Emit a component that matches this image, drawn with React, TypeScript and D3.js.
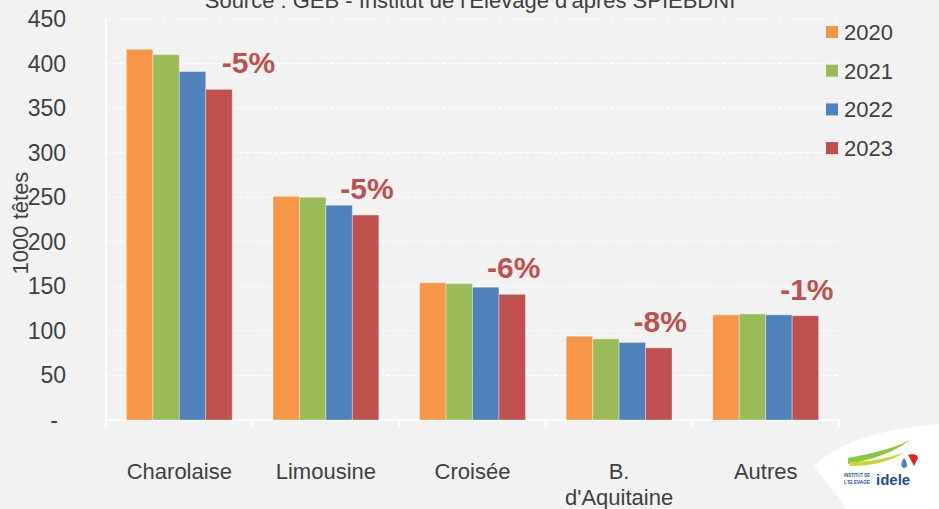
import React, { useRef, useEffect } from 'react';
import * as d3 from 'd3';

const categories = ['Charolaise', 'Limousine', 'Croisée', "B. d'Aquitaine", 'Autres'];
const years = ['2020', '2021', '2022', '2023'];
const values2020 = [416, 251, 154, 94, 118];
const values2021 = [410, 250, 153, 91, 119];
const values2022 = [391, 241, 149, 87, 118];
const values2023 = [371, 230, 141, 81, 117];
const changes = ['-5%', '-5%', '-6%', '-8%', '-1%'];
const yTicks = [0, 50, 100, 150, 200, 250, 300, 350, 400, 450];
const colors = ['#f79646', '#9bbb59', '#4f81bd', '#c0504d'];

const series = [values2020, values2021, values2022, values2023];

const Chart: React.FC = () => {
  const ref = useRef<SVGSVGElement>(null);

  useEffect(() => {
    const svg = d3.select(ref.current);
    svg.selectAll('*').remove();
    const width = 939;
    const height = 509;
    const margin = { top: 19, right: 100, bottom: 89, left: 106 };
    const font = '"Liberation Sans", Arial, sans-serif';
    const textColor = '#404040';

    svg.attr('width', width).attr('height', height);
    svg.append('rect').attr('width', width).attr('height', height).attr('fill', '#f2f2f2');

    const x0 = d3.scaleBand()
      .domain(categories)
      .range([margin.left, width - margin.right])
      .padding(0);

    const x1 = d3.scaleBand()
      .domain(years)
      .range([0, x0.bandwidth()])
      .paddingInner(0)
      .paddingOuter(0.77);

    const y = d3.scaleLinear()
      .domain([0, 450])
      .range([height - margin.bottom, margin.top]);

    // gridlines
    svg.append('g')
      .selectAll('line')
      .data(yTicks.filter(t => t > 0))
      .join('line')
      .attr('x1', margin.left)
      .attr('x2', width - margin.right)
      .attr('y1', d => y(d))
      .attr('y2', d => y(d))
      .attr('stroke', '#ffffff')
      .attr('stroke-width', 1)
      .attr('stroke-dasharray', '4,3');

    // axes lines
    svg.append('line')
      .attr('x1', margin.left).attr('x2', margin.left)
      .attr('y1', margin.top).attr('y2', y(0) + 7)
      .attr('stroke', '#ffffff').attr('stroke-width', 1.5);
    svg.append('line')
      .attr('x1', margin.left).attr('x2', width - margin.right)
      .attr('y1', y(0)).attr('y2', y(0))
      .attr('stroke', '#ffffff').attr('stroke-width', 1.5);
    svg.append('g')
      .selectAll('line')
      .data(categories)
      .join('line')
      .attr('x1', d => x0(d)! + x0.step())
      .attr('x2', d => x0(d)! + x0.step())
      .attr('y1', y(0))
      .attr('y2', y(0) + 7)
      .attr('stroke', '#ffffff').attr('stroke-width', 1.5);

    // y tick labels
    svg.append('g')
      .selectAll('text')
      .data(yTicks)
      .join('text')
      .attr('x', d => d === 0 ? 58 : 66)
      .attr('y', d => y(d))
      .attr('dy', '0.35em')
      .attr('text-anchor', 'end')
      .attr('font-family', font)
      .attr('font-size', 23)
      .attr('fill', textColor)
      .text(d => d === 0 ? '-' : String(d));

    // y axis title
    svg.append('text')
      .attr('transform', 'translate(28,223) rotate(-90)')
      .attr('text-anchor', 'middle')
      .attr('font-family', font)
      .attr('font-size', 22)
      .attr('fill', textColor)
      .text('1000 têtes');

    // bars
    const groups = svg.append('g')
      .selectAll('g')
      .data(categories)
      .join('g')
      .attr('transform', d => `translate(${x0(d)},0)`);

    groups.selectAll('rect')
      .data((d, i) => series.map((s, j) => ({ year: years[j], value: s[i], color: colors[j] })))
      .join('rect')
      .attr('x', d => x1(d.year)!)
      .attr('y', d => y(d.value))
      .attr('width', x1.bandwidth())
      .attr('height', d => y(0) - y(d.value))
      .attr('fill', d => d.color)
      .attr('stroke', '#ffffff')
      .attr('stroke-opacity', 0.35)
      .attr('stroke-width', 1);

    // change labels above 2023 bars
    svg.append('g')
      .selectAll('text')
      .data(categories)
      .join('text')
      .attr('x', (d, i) => x0(d)! + x1('2023')! - 12 + (i === 0 ? 28 : 0))
      .attr('y', (d, i) => y(values2023[i]) - 16)
      .attr('font-family', font)
      .attr('font-weight', 'bold')
      .attr('font-size', 30)
      .attr('fill', '#c0504d')
      .text((d, i) => changes[i]);

    // x labels
    const xl = svg.append('g')
      .selectAll('text')
      .data(categories)
      .join('text')
      .attr('x', d => x0(d)! + x0.bandwidth() / 2)
      .attr('y', 479)
      .attr('text-anchor', 'middle')
      .attr('font-family', font)
      .attr('font-size', 22)
      .attr('fill', textColor);
    xl.each(function (d) {
      const t = d3.select(this);
      const cx = x0(d)! + x0.bandwidth() / 2;
      if (d.startsWith('B. ')) {
        t.append('tspan').attr('x', cx).text('B.');
        t.append('tspan').attr('x', cx).attr('dy', 26).text(d.slice(3));
      } else {
        t.text(d);
      }
    });

    // legend
    const legend = svg.append('g')
      .selectAll('g')
      .data(years)
      .join('g')
      .attr('transform', (d, i) => `translate(826,${32 + i * 38.7})`);
    legend.append('rect')
      .attr('x', 0).attr('y', -6)
      .attr('width', 12).attr('height', 12)
      .attr('fill', (d, i) => colors[i]);
    legend.append('text')
      .attr('x', 18)
      .attr('dy', '0.36em')
      .attr('font-family', font)
      .attr('font-size', 22)
      .attr('fill', textColor)
      .text(d => d);

    // title (partly cut off at the top)
    svg.append('text')
      .attr('x', 470)
      .attr('y', 8)
      .attr('text-anchor', 'middle')
      .attr('font-family', font)
      .attr('font-size', 22)
      .attr('fill', textColor)
      .text("Source : GEB - Institut de l'Elevage d'après SPIEBDNI");

    // logo corner
    const logo = svg.append('g');
    logo.append('path')
      .attr('d', 'M814,466 C840,440 890,428 939,424 L939,509 L846,509 C836,492 822,478 814,466 Z')
      .attr('fill', '#ffffff');
    logo.append('path')
      .attr('d', 'M848,458 C868,454 890,450 910,440 C895,452 872,460 848,464 Z')
      .attr('fill', '#8dc63f');
    logo.append('path')
      .attr('d', 'M850,462 C870,462 890,458 905,452 C890,462 870,466 850,466 Z')
      .attr('fill', '#c4d92e');
    logo.append('path')
      .attr('d', 'M908,455 C914,453 918,455 918,458 L914,466 C912,462 910,458 908,455 Z')
      .attr('fill', '#e2231a');
    logo.append('path')
      .attr('d', 'M904,458 C901,462 900,467 904,468 C908,468 908,463 904,458 Z')
      .attr('fill', '#4f81bd');
    logo.append('text')
      .attr('x', 844).attr('y', 477)
      .attr('font-family', font).attr('font-weight', 'bold')
      .attr('font-size', 5.5).attr('fill', '#1f4e9c')
      .attr('textLength', 26).attr('lengthAdjust', 'spacingAndGlyphs')
      .text('INSTITUT DE');
    logo.append('text')
      .attr('x', 844).attr('y', 484)
      .attr('font-family', font).attr('font-weight', 'bold')
      .attr('font-size', 5.5).attr('fill', '#1f4e9c')
      .attr('textLength', 26).attr('lengthAdjust', 'spacingAndGlyphs')
      .text("L'ELEVAGE");
    logo.append('text')
      .attr('x', 876).attr('y', 485)
      .attr('font-family', font).attr('font-weight', 'bold')
      .attr('font-size', 15).attr('fill', '#1f4e9c')
      .text('idele');
  }, []);

  return <svg ref={ref} style={{ position: 'absolute', left: 0, top: 0, display: 'block' }}></svg>;
};

export default function App() {
  return <Chart />;
}
